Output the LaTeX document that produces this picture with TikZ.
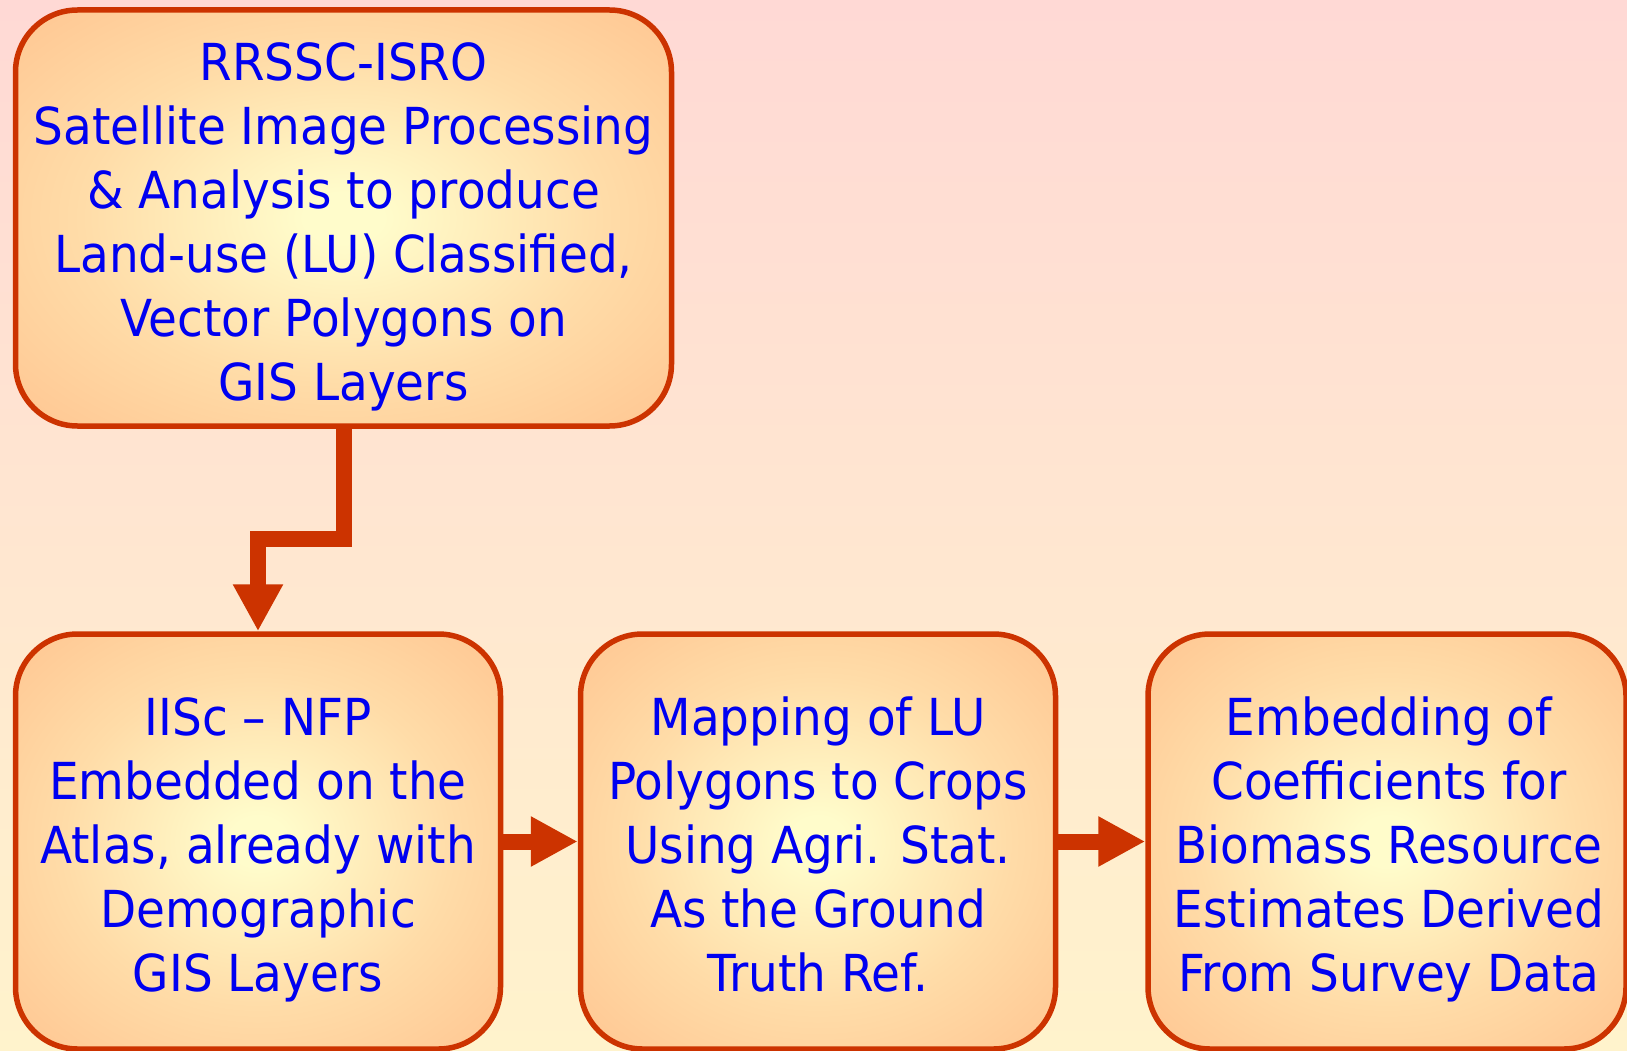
\documentclass[tikz,border=0pt]{standalone}
\usepackage{fontspec}
\setmainfont[FakeStretch=0.92]{DejaVu Sans}
\usetikzlibrary{arrows.meta}
\definecolor{bgtop}{HTML}{FFD9D5}
\definecolor{bgbot}{HTML}{FFF3CC}
\definecolor{edgec}{HTML}{CC3300}
\definecolor{boxin}{HTML}{FFFCCB}
\definecolor{boxmid}{HTML}{FFDCA8}
\definecolor{boxout}{HTML}{FFC894}
\definecolor{txt}{HTML}{0000F0}
\pgfdeclareradialshading{boxshade}{\pgfpoint{0bp}{0bp}}{color(0bp)=(boxin); color(3bp)=(boxin); color(20bp)=(boxmid); color(34bp)=(boxout); color(100bp)=(boxout)}
\tikzset{
  box/.style={draw=edgec, line width=5.5pt, rounded corners=62pt, shading=boxshade, inner sep=0pt},
  lbl/.style={text=txt, align=center, font=\fontsize{51}{64}\selectfont, inner sep=0pt},
  conn/.style={draw=edgec, line width=16pt, -{Triangle[length=47pt,width=47pt]}}
}
\begin{document}
\begin{tikzpicture}[x=1pt,y=-1pt]
\useasboundingbox (0,0) rectangle (1627,1051);
\fill[top color=bgtop, bottom color=bgbot] (0,0) rectangle (1627,1051);

\node[box, minimum width=656pt, minimum height=416pt] (top) at (343.5,218) {};
\node[box, minimum width=485pt, minimum height=415pt] (b1) at (258,841.5) {};
\node[box, minimum width=475pt, minimum height=415pt] (b2) at (818,841.5) {};
\node[box, minimum width=478pt, minimum height=415pt] (b3) at (1387,841.5) {};

\node[lbl] (ttop) at ([yshift=-9.7pt]top.center) {\strut RRSSC-ISRO\\ Satellite Image Processing\\ \& Analysis to produce\\ Land-use (LU) Classified,\\ Vector Polygons on\\ GIS Layers\strut};
\node[lbl] (tb1) at ([yshift=-8.7pt]b1.center) {\strut IISc – NFP\\ Embedded on the\\ Atlas, already with\\ Demographic\\ GIS Layers\strut};
\node[lbl] (tb2) at ([yshift=-8.7pt]b2.center) {\strut Mapping of LU\\ Polygons to Crops\\ Using Agri. Stat.\\ As the Ground\\ Truth Ref.\strut};
\node[lbl] (tb3) at ([yshift=-8.7pt,xshift=2pt]b3.center) {\strut Embedding of\\ Coefficients for\\ Biomass Resource\\ Estimates Derived\\ From Survey Data\strut};

\draw[conn] (top.south) -- ++(0,110) -| (b1.north);
\draw[conn] (b1.east) -- (b2.west);
\draw[conn] (b2.east) -- (b3.west);
\end{tikzpicture}
\end{document}
